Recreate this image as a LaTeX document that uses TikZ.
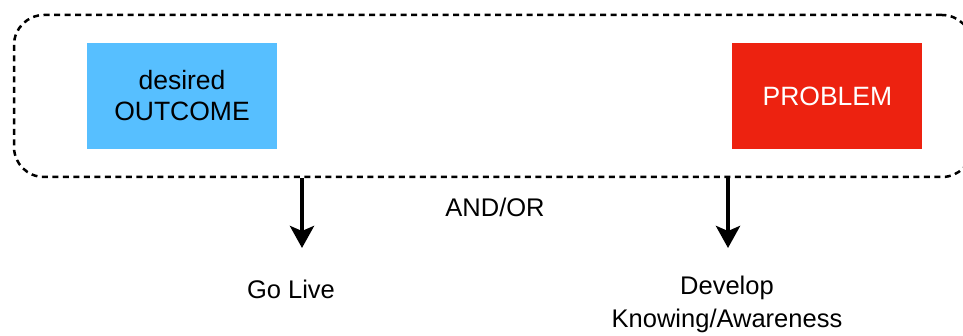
\documentclass[tikz,border=0pt]{standalone}
\usepackage{fontspec}
\setmainfont{Liberation Sans}
\usetikzlibrary{positioning, arrows.meta}
\definecolor{outcomeblue}{RGB}{87,191,255}
\definecolor{problemred}{RGB}{237,34,16}

\begin{document}
\begin{tikzpicture}[
    x=1pt, y=-1pt,
    frame/.style={draw=black, line width=2.5pt, dash pattern=on 6pt off 4.5pt, rounded corners=30pt, minimum width=958pt, minimum height=162pt, inner sep=0pt},
    goal/.style={rectangle, minimum width=190pt, minimum height=106pt, inner sep=0pt, align=center, font=\fontsize{26.5}{31}\selectfont},
    result/.style={align=center, font=\fontsize{25.5}{33}\selectfont},
    flow/.style={-{Stealth[length=22pt, width=24pt, inset=5pt]}, line width=4.5pt}
  ]
  \useasboundingbox (0,0) rectangle (963,336);

  \node[frame] (frame) at (493,96) {};
  \node[goal, fill=outcomeblue] (outcome) at (182,96) {desired\\OUTCOME};
  \node[goal, fill=problemred, text=white, right=455pt of outcome] (problem) {PROBLEM};

  \coordinate (livetip) at (302,248);
  \coordinate (developtip) at (728,248);
  \draw[flow] (frame.south -| livetip) -- (livetip);
  \draw[flow] (frame.south -| developtip) -- (developtip);

  \node[result] (andor) at (495,207) {AND/OR};
  \node[result] (golive) at (291,289) {Go Live};
  \node[result] (develop) at (727,304) {Develop\\Knowing/Awareness};

\end{tikzpicture}
\end{document}
